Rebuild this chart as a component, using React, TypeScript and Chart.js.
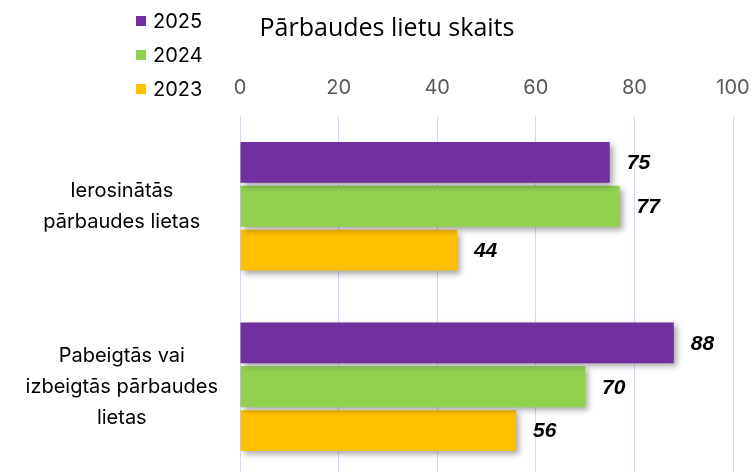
import React, { useEffect, useRef } from "react";
import { Chart, registerables } from "chart.js";

Chart.register(...registerables);

const categories: string[][] = [
  ["Ierosinātās", "pārbaudes lietas"],
  ["Pabeigtās vai", "izbeigtās pārbaudes", "lietas"],
];
const seriesNames = ["2025", "2024", "2023"];
const values2025 = [75, 88];
const values2024 = [77, 70];
const values2023 = [44, 56];
const seriesColors = ["#7030A0", "#92D050", "#FFC000"];
const xTicks = { min: 0, max: 100, step: 20 };
const chartTitle = "Pārbaudes lietu skaits";

const FONT = "Inter, 'Open Sans', sans-serif";
const TITLE_FONT = "'Open Sans', sans-serif";
const LABEL_FONT = "'Liberation Sans', Arial, sans-serif";

const shadowPlugin = {
  id: "barShadow",
  beforeDatasetDraw(chart: any) {
    const ctx = chart.ctx;
    ctx.save();
    ctx.shadowColor = "rgba(0,0,0,0.35)";
    ctx.shadowBlur = 6;
    ctx.shadowOffsetX = 3;
    ctx.shadowOffsetY = 3;
  },
  afterDatasetDraw(chart: any) {
    chart.ctx.restore();
  },
};

const labelPlugin = {
  id: "valueLabels",
  afterDatasetsDraw(chart: any) {
    const ctx = chart.ctx;
    ctx.save();
    ctx.font = `italic bold 21px ${LABEL_FONT}`;
    ctx.fillStyle = "#000000";
    ctx.textAlign = "left";
    ctx.textBaseline = "middle";
    chart.data.datasets.forEach((ds: any, i: number) => {
      const meta = chart.getDatasetMeta(i);
      meta.data.forEach((bar: any, j: number) => {
        ctx.fillText(String(ds.data[j]), bar.x + 17, bar.y + 1);
      });
    });
    ctx.restore();
  },
};

const headerPlugin = {
  id: "header",
  afterDraw(chart: any) {
    const ctx = chart.ctx;
    ctx.save();
    ctx.font = `25px ${TITLE_FONT}`;
    ctx.fillStyle = "#000000";
    ctx.textAlign = "center";
    ctx.textBaseline = "middle";
    ctx.fillText(chartTitle, 387, 29);
    ctx.font = `20px ${FONT}`;
    ctx.textAlign = "left";
    chart.data.datasets.forEach((ds: any, i: number) => {
      const y = 21 + i * 34;
      ctx.fillStyle = ds.backgroundColor;
      ctx.fillRect(136, y - 5, 10, 10);
      ctx.fillStyle = "#000000";
      ctx.fillText(ds.label, 153, y + 1);
    });
    ctx.restore();
  },
};

export default function App() {
  const ref = useRef<HTMLCanvasElement | null>(null);
  useEffect(() => {
    if (!ref.current) return;
    const data = [values2025, values2024, values2023];
    const chart = new Chart(ref.current, {
      type: "bar",
      data: {
        labels: categories,
        datasets: seriesNames.map((name, i) => ({
          label: name,
          data: data[i],
          backgroundColor: seriesColors[i],
          borderWidth: 0,
          categoryPercentage: 0.73,
          barPercentage: 0.93,
        })),
      },
      options: {
        indexAxis: "y",
        animation: false,
        responsive: false,
        maintainAspectRatio: false,
        layout: { padding: { top: 60, right: 22, bottom: 3, left: 0 } },
        plugins: {
          legend: { display: false },
          title: { display: false },
          tooltip: { enabled: false },
        },
        scales: {
          x: {
            position: "top",
            min: xTicks.min,
            max: xTicks.max,
            ticks: {
              stepSize: xTicks.step,
              color: "#595959",
              font: { family: FONT, size: 20, lineHeight: 1.2 },
              padding: 16,
            },
            grid: { color: "#D9D5EF", drawTicks: false, lineWidth: 1 },
            border: { display: false },
            afterFit: (s: any) => {
              s.paddingLeft = 0;
              s.paddingRight = 0;
            },
          },
          y: {
            ticks: {
              color: "#000000",
              font: { family: FONT, size: 20, lineHeight: 1.55 },
              crossAlign: "center",
              padding: 22,
            },
            grid: { display: false, drawTicks: false },
            border: { display: false },
            afterFit: (s: any) => {
              s.width = 240;
              s.paddingTop = 0;
              s.paddingBottom = 0;
            },
          },
        },
      },
      plugins: [shadowPlugin, labelPlugin, headerPlugin],
    });
    return () => chart.destroy();
  }, []);
  return (
    <div style={{ position: "fixed", left: 0, top: 0, width: 755, height: 480, background: "#fff" }}>
      <canvas ref={ref} width={755} height={480} style={{ width: 755, height: 480 }} />
    </div>
  );
}
